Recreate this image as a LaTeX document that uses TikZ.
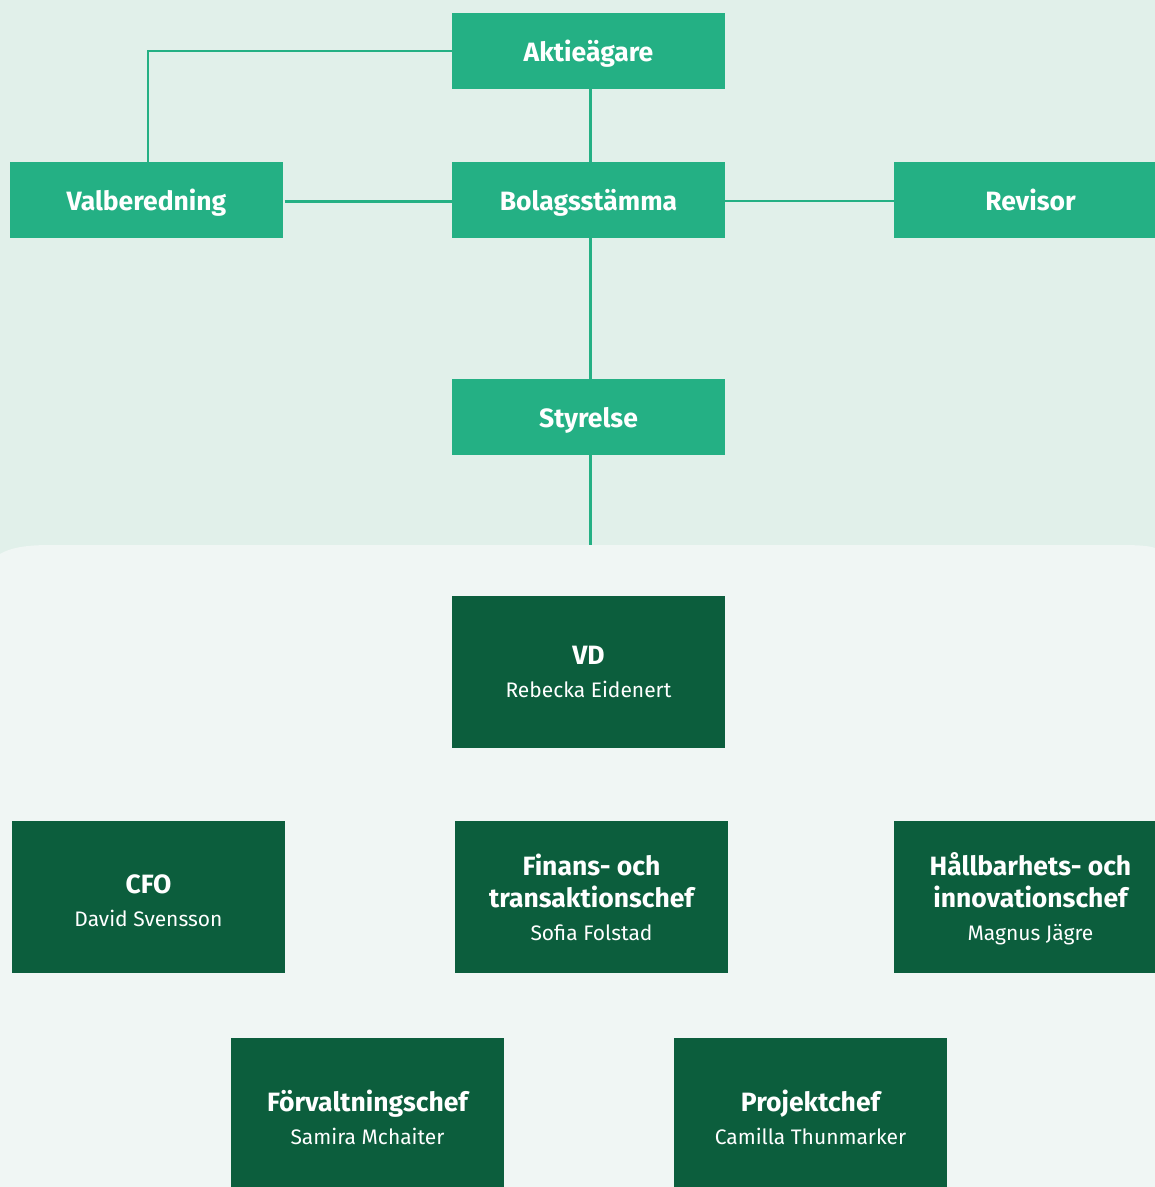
\documentclass[tikz,border=0pt]{standalone}
\usepackage{fontspec}
\setmainfont{Fira Sans}
\definecolor{bgtop}{RGB}{225,240,234}
\definecolor{bglow}{RGB}{240,246,244}
\definecolor{lgreen}{RGB}{36,176,132}
\definecolor{dgreen}{RGB}{12,94,61}
\tikzset{
  lbox/.style={fill=lgreen, text=white, minimum width=273pt, minimum height=76pt, inner sep=0pt,
    text height=21pt, text depth=0pt, font=\bfseries\fontsize{26.5}{30}\selectfont},
  dbox/.style={fill=dgreen, minimum width=273pt, minimum height=152pt, inner sep=0pt},
  dtext/.style={text=white, inner sep=0pt, align=center, font=\fontsize{21}{32}\selectfont},
  conn/.style={draw=lgreen, line width=2.5pt},
}
\newcommand{\ttl}[1]{{\bfseries\fontsize{26.5}{32}\selectfont #1}}
\begin{document}
\begin{tikzpicture}[x=1pt,y=-1pt]
\useasboundingbox (0,0) rectangle (1155,1187);
\clip (0,0) rectangle (1155,1187);
\fill[bgtop] (0,0) rectangle (1155,1187);
\fill[bglow] (0,554) .. controls (10,548) and (25,545) .. (50,545) -- (1120,545)
  .. controls (1140,545) and (1150,546) .. (1155,548) -- (1155,1187) -- (0,1187) -- cycle;
% upper boxes
\node[lbox] (akt) at (588.5,51) {Aktieägare};
\node[lbox] (val) at (146.5,200) {Valberedning};
\node[lbox] (bol) at (588.5,200) {Bolagsstämma};
\node[lbox] (rev) at (1030.5,200) {Revisor};
\node[lbox] (sty) at (588.5,417) {Styrelse};
\coordinate (styend) at (590.5,545);
% connectors
\draw[conn] (akt.west) -| ([xshift=1.5pt]val.north);
\draw[conn] ([xshift=2pt]akt.south) -- ([xshift=2pt]bol.north);
\draw[conn] ([xshift=1.5pt,yshift=-1.5pt]val.east) -- ([yshift=-1.5pt]bol.west);
\draw[conn] ([yshift=-1pt]bol.east) -- ([yshift=-1pt]rev.west);
\draw[conn] ([xshift=2pt]bol.south) -- ([xshift=2pt]sty.north);
\draw[conn] ([xshift=2pt]sty.south) -- (styend);
% lower boxes
\node[dbox] (vd) at (588.5,672) {};
\node[dbox] (cfo) at (148.5,897) {};
\node[dbox] (fin) at (591.5,897) {};
\node[dbox] (hal) at (1030.5,897) {};
\node[dbox] (forv) at (367.5,1114) {};
\node[dbox] (proj) at (810.5,1114) {};
\node[dtext] (vdt) at (vd) {\ttl{VD}\\[1pt]Rebecka Eidenert};
\node[dtext] (cfot) at ([yshift=-4pt]cfo.center) {\ttl{CFO}\\[1pt]David Svensson};
\node[dtext] (fint) at (fin) {\ttl{Finans- och}\\\ttl{transaktionschef}\\[1pt]Sofia Folstad};
\node[dtext] (halt) at ([yshift=-2pt]hal.center) {\ttl{Hållbarhets- och}\\\ttl{innovationschef}\\[1pt]Magnus Jägre};
\node[dtext] (forvt) at ([yshift=-3pt]forv.center) {\ttl{Förvaltningschef}\\[1pt]Samira Mchaiter};
\node[dtext] (projt) at ([yshift=-3pt]proj.center) {\ttl{Projektchef}\\[1pt]Camilla Thunmarker};
\end{tikzpicture}
\end{document}
